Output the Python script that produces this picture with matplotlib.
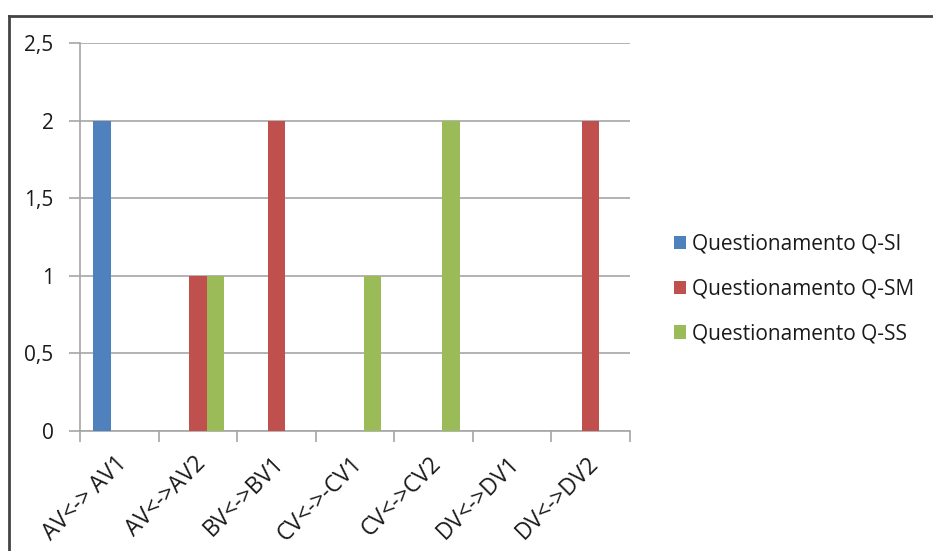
import matplotlib
matplotlib.use('Agg')
import matplotlib.pyplot as plt
from matplotlib.patches import Patch
from matplotlib.lines import Line2D
import numpy as np

plt.rcParams['font.family'] = ['Open Sans', 'DejaVu Sans']

categorias = ['AV<-> AV1', 'AV<->AV2', 'BV<->BV1', 'CV<->-CV1',
              'CV<->CV2', 'DV<->DV1', 'DV<->DV2']
q_si = [2, 0, 0, 0, 0, 0, 0]
q_sm = [0, 1, 2, 0, 0, 0, 2]
q_ss = [0, 1, 0, 1, 2, 0, 0]
series = ['Questionamento Q-SI', 'Questionamento Q-SM', 'Questionamento Q-SS']
cores = ['#4F81BD', '#C0504D', '#9BBB59']

fig = plt.figure(figsize=(9.33, 5.51), dpi=100)
ax = fig.add_axes([80/933, 1-431/551, 550/933, 388/551])

x = np.arange(len(categorias))
w = 1/4.5  # gap width 150%
for i, (vals, cor) in enumerate(zip([q_si, q_sm, q_ss], cores)):
    ax.bar(x + (i-1)*w, vals, width=w, color=cor, linewidth=0, zorder=3)

ax.set_xlim(-0.5, len(categorias)-0.5)
ax.set_ylim(0, 2.5)
ax.set_yticks([0, 0.5, 1, 1.5, 2, 2.5])
ax.set_yticklabels(['0', '0,5', '1', '1,5', '2', '2,5'], fontsize=15, color='#1a1a1a')
ax.yaxis.grid(True, color='#a6a6a6', lw=1.2, zorder=0)
ax.tick_params(axis='y', length=8, color='#a6a6a6', width=1.2, pad=11)

# ticks nas divisões das categorias, rótulos no centro
ax.set_xticks(np.arange(len(categorias)+1) - 0.5)
ax.set_xticklabels([])
ax.tick_params(axis='x', length=8, color='#a6a6a6', width=1.2)
for xi, lab in zip(x, categorias):
    ax.annotate(lab, xy=(xi, 0), xycoords=('data', 'axes fraction'),
                xytext=(3, -21), textcoords='offset points',
                rotation=45, rotation_mode='anchor', ha='right', va='center',
                fontsize=16.5, color='#1a1a1a')

for s in ['top', 'right']:
    ax.spines[s].set_visible(False)
for s in ['left', 'bottom']:
    ax.spines[s].set_color('#a6a6a6')
    ax.spines[s].set_linewidth(1.2)

handles = [Patch(facecolor=c, edgecolor='none') for c in cores]
fig.legend(handles, series, loc='center left', bbox_to_anchor=(655/933, 1-289/551),
           frameon=False, fontsize=15, handlelength=0.6, handleheight=0.6,
           handletextpad=0.3, labelspacing=1.15, labelcolor='#1a1a1a')

# moldura do gráfico
fig.add_artist(Line2D([9/933, 932/933], [1-16/551, 1-16/551], color='#444444', lw=2))
fig.add_artist(Line2D([9/933, 9/933], [0, 1-16/551], color='#444444', lw=2))

fig.savefig('out.png', dpi=100)
